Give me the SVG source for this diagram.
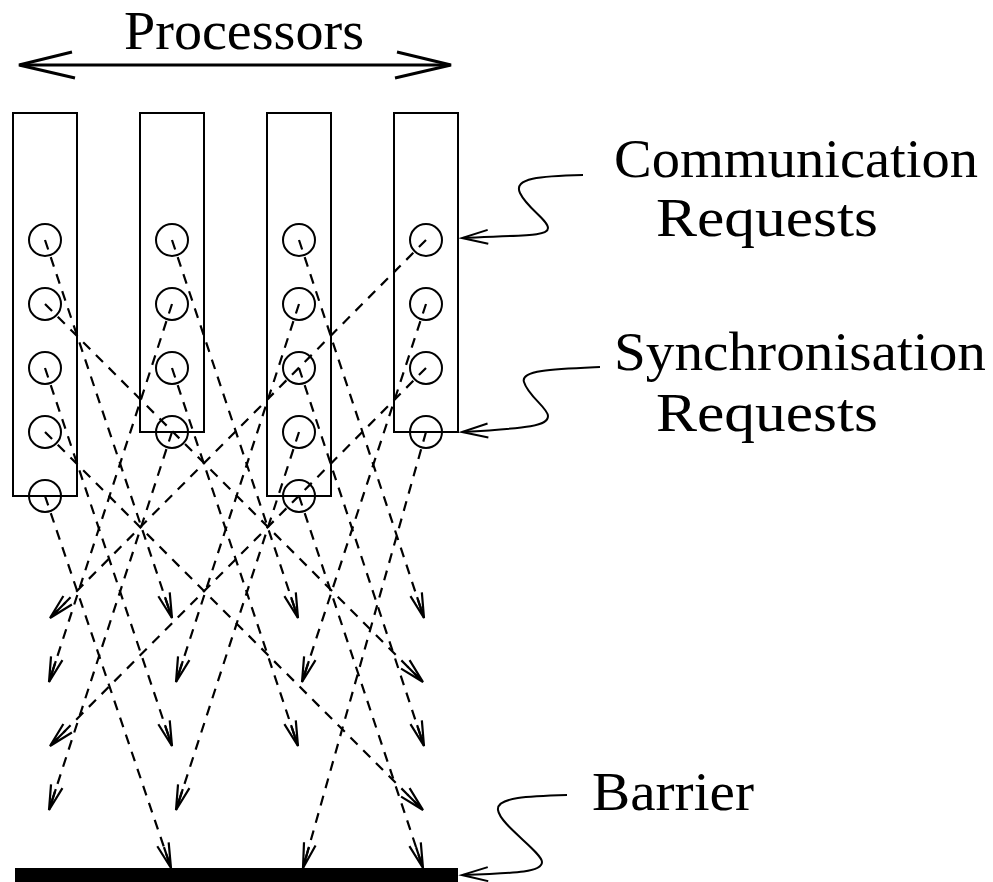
<svg xmlns="http://www.w3.org/2000/svg" width="993" height="882" viewBox="0 0 993 882">
  <style>
    .box { fill: none; stroke: #000; stroke-width: 2; }
    .req { fill: none; stroke: #000; stroke-width: 2; }
    .msg { fill: none; stroke: #000; stroke-width: 2.2; stroke-dasharray: 10 8; marker-end: url(#dashHead); }
    .callout { fill: none; stroke: #000; stroke-width: 2; marker-end: url(#calloutHead); }
    .label { font-family: "Liberation Serif", "Times New Roman", serif; font-size: 55px; fill: #000; }
  </style>
  <defs>
    <marker id="dashHead" markerUnits="userSpaceOnUse" orient="auto" markerWidth="30" markerHeight="16" viewBox="-28 -8 30 16" refX="0" refY="0" overflow="visible">
      <path d="M-25,-6 L0,0 L-25,6 M-22,0 L0,0" fill="none" stroke="#000" stroke-width="2.2"/>
    </marker>
    <marker id="calloutHead" markerUnits="userSpaceOnUse" orient="auto" markerWidth="32" markerHeight="18" viewBox="-30 -9 32 18" refX="0" refY="0" overflow="visible">
      <path d="M-26,-7 L0,0 L-26,7" fill="none" stroke="#000" stroke-width="2"/>
    </marker>
  </defs>

  <!-- Processors span arrow -->
  <g id="processors">
    <line x1="20" y1="65" x2="450" y2="65" stroke="#000" stroke-width="3"/>
    <polyline points="72,52 19,65 75,78" fill="none" stroke="#000" stroke-width="3"/>
    <polyline points="397,52 451,65 395,78" fill="none" stroke="#000" stroke-width="3"/>
    <text class="label" x="124" y="49" textLength="240" lengthAdjust="spacingAndGlyphs">Processors</text>
  </g>

  <!-- Processor columns with their request circles -->
  <g id="proc1">
    <rect class="box" x="13" y="113" width="64" height="383"/>
    <circle class="req" cx="45" cy="240" r="16"/>
    <circle class="req" cx="45" cy="304" r="16"/>
    <circle class="req" cx="45" cy="368" r="16"/>
    <circle class="req" cx="45" cy="432" r="16"/>
    <circle class="req" cx="45" cy="496" r="16"/>
  </g>
  <g id="proc2">
    <rect class="box" x="140" y="113" width="64" height="319"/>
    <circle class="req" cx="172" cy="240" r="16"/>
    <circle class="req" cx="172" cy="304" r="16"/>
    <circle class="req" cx="172" cy="368" r="16"/>
    <circle class="req" cx="172" cy="432" r="16"/>
  </g>
  <g id="proc3">
    <rect class="box" x="267" y="113" width="64" height="383"/>
    <circle class="req" cx="299" cy="240" r="16"/>
    <circle class="req" cx="299" cy="304" r="16"/>
    <circle class="req" cx="299" cy="368" r="16"/>
    <circle class="req" cx="299" cy="432" r="16"/>
    <circle class="req" cx="299" cy="496" r="16"/>
  </g>
  <g id="proc4">
    <rect class="box" x="394" y="113" width="64" height="319"/>
    <circle class="req" cx="426" cy="240" r="16"/>
    <circle class="req" cx="426" cy="304" r="16"/>
    <circle class="req" cx="426" cy="368" r="16"/>
    <circle class="req" cx="426" cy="432" r="16"/>
  </g>

  <!-- Barrier -->
  <g id="barrier">
    <rect x="15" y="868" width="443" height="14" fill="#000"/>
    <text class="label" x="592" y="810" textLength="162" lengthAdjust="spacingAndGlyphs">Barrier</text>
  </g>

  <!-- Request messages (dashed) -->
  <g id="messages">
    <line class="msg" x1="45" y1="240" x2="172" y2="618"/>
    <line class="msg" x1="45" y1="304" x2="423" y2="682"/>
    <line class="msg" x1="45" y1="368" x2="172" y2="746"/>
    <line class="msg" x1="45" y1="432" x2="423" y2="810"/>
    <line class="msg" x1="45" y1="496" x2="171" y2="868"/>

    <line class="msg" x1="172" y1="240" x2="298" y2="618"/>
    <line class="msg" x1="172" y1="304" x2="49" y2="682"/>
    <line class="msg" x1="172" y1="368" x2="298" y2="746"/>
    <line class="msg" x1="172" y1="432" x2="49" y2="810"/>

    <line class="msg" x1="299" y1="240" x2="424" y2="618"/>
    <line class="msg" x1="299" y1="304" x2="176" y2="682"/>
    <line class="msg" x1="299" y1="368" x2="424" y2="746"/>
    <line class="msg" x1="299" y1="432" x2="176" y2="810"/>
    <line class="msg" x1="299" y1="496" x2="423" y2="868"/>

    <line class="msg" x1="426" y1="240" x2="50" y2="618"/>
    <line class="msg" x1="426" y1="304" x2="302" y2="682"/>
    <line class="msg" x1="426" y1="368" x2="50" y2="746"/>
    <line class="msg" x1="426" y1="432" x2="303" y2="868"/>
  </g>

  <!-- Callout labels -->
  <g id="comm-label">
    <path class="callout" d="M583,175 C540,176 513,178 520,193 C527,208 548,220 548,228 C548,236 530,235 462,238"/>
    <text class="label" x="614" y="177" textLength="364" lengthAdjust="spacingAndGlyphs">Communication</text>
    <text class="label" x="656" y="236" textLength="222" lengthAdjust="spacingAndGlyphs">Requests</text>
  </g>
  <g id="sync-label">
    <path class="callout" d="M600,367 C555,369 520,370 524,382 C528,396 548,408 548,416 C548,426 530,428 462,432"/>
    <text class="label" x="614" y="370" textLength="372" lengthAdjust="spacingAndGlyphs">Synchronisation</text>
    <text class="label" x="656" y="431" textLength="222" lengthAdjust="spacingAndGlyphs">Requests</text>
  </g>
  <g id="barrier-label">
    <path class="callout" d="M567,795 C530,796 496,797 498,810 C500,825 542,852 542,862 C542,872 520,873 462,875"/>
  </g>
</svg>
